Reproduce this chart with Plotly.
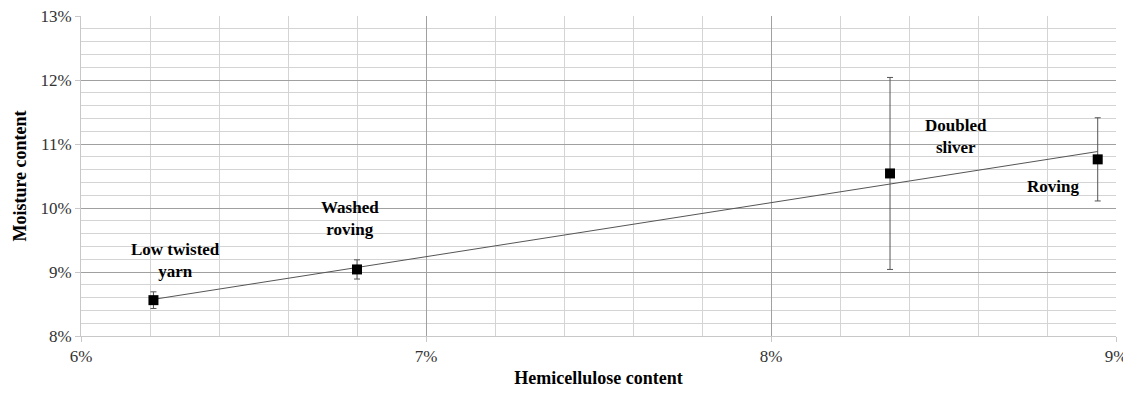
import numpy as np
import plotly.graph_objects as go

# Data (percent units)
labels = ["Low twisted<br>yarn", "Washed<br>roving", "Doubled<br>sliver", "Roving"]
hemicellulose = [6.21, 6.80, 8.345, 8.947]
moisture = [8.56, 9.04, 10.54, 10.76]
moisture_err = [0.13, 0.15, 1.50, 0.65]

# label anchor positions (data coords)
label_x = [6.275, 6.78, 8.536, 8.817]
label_y = [9.18, 9.84, 11.125, 10.33]

FONT = "Liberation Serif, Times New Roman, serif"

fig = go.Figure()

# linear trendline from data
coef = np.polyfit(hemicellulose, moisture, 1)
tx = np.array([min(hemicellulose), max(hemicellulose)])
ty = np.polyval(coef, tx)
fig.add_trace(go.Scatter(x=tx, y=ty, mode="lines",
                         line=dict(color="#555555", width=1), showlegend=False, hoverinfo="skip"))

fig.add_trace(go.Scatter(
    x=hemicellulose, y=moisture, mode="markers",
    marker=dict(symbol="square", size=10, color="black"),
    error_y=dict(type="data", array=moisture_err, visible=True, color="#555555", thickness=1, width=3),
    showlegend=False))

for lab, lx, ly in zip(labels, label_x, label_y):
    fig.add_annotation(x=lx, y=ly, text="<b>" + lab + "</b>", showarrow=False,
                       font=dict(family=FONT, size=17, color="black"), align="center")

# page body has an 8px default margin; compensate so plot area lands at x 81..1116, y 16..336
fig.update_layout(
    width=1123, height=386,
    margin=dict(l=73, r=15, t=8, b=58),
    plot_bgcolor="white", paper_bgcolor="white",
    font=dict(family=FONT, size=17, color="#333333"),
    xaxis=dict(range=[6, 9], dtick=1, tick0=6, ticksuffix="%", automargin=False,
               ticklabeloverflow="allow",
               showgrid=True, gridcolor="#a0a0a0", gridwidth=1,
               minor=dict(dtick=0.2, showgrid=True, gridcolor="#d4d4d4", gridwidth=1),
               showline=True, linecolor="#c8c8c8", mirror=False,
               ticks="outside", ticklen=5, tickcolor="#c8c8c8",
               zeroline=False,
               title=dict(text="<b>Hemicellulose content</b>", font=dict(family=FONT, size=18, color="black"), standoff=5)),
    yaxis=dict(range=[8, 13], dtick=1, tick0=8, ticksuffix="%", automargin=False,
               ticklabeloverflow="allow",
               showgrid=True, gridcolor="#a0a0a0", gridwidth=1,
               minor=dict(dtick=0.2, showgrid=True, gridcolor="#d4d4d4", gridwidth=1),
               showline=True, linecolor="#c8c8c8",
               ticks="outside", ticklen=5, tickcolor="#c8c8c8",
               zeroline=False,
               title=dict(text="<b>Moisture content</b>", font=dict(family=FONT, size=18, color="black"), standoff=9)),
)

fig.write_html("out.html")
